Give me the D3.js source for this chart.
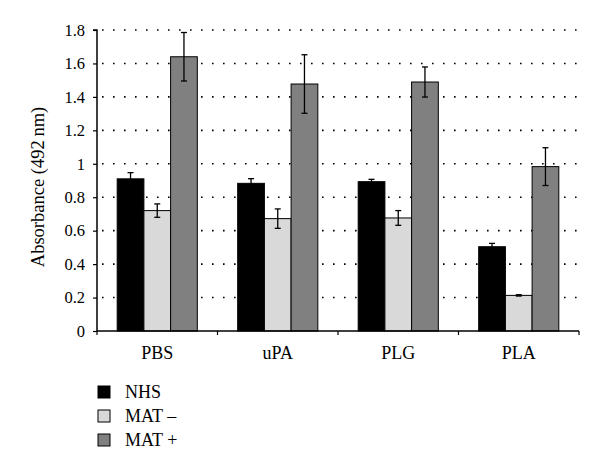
<!DOCTYPE html>
<html>
<head>
<meta charset="utf-8">
<script src="https://cdn.jsdelivr.net/npm/d3@7"></script>
<style>
  body { margin: 0; background: #fff; }
  svg { display: block; font-family: "Liberation Serif", "DejaVu Serif", serif; }
</style>
</head>
<body>
<svg></svg>
<script>
let categories = ['PBS', 'uPA', 'PLG', 'PLA']
let seriesNames = ['NHS', 'MAT \u2013', 'MAT +']
let seriesColors = ['#000000', '#d9d9d9', '#808080']

let nhs = [0.91, 0.883, 0.893, 0.504]
let matMinus = [0.72, 0.672, 0.676, 0.213]
let matPlus = [1.64, 1.477, 1.489, 0.983]

let nhsErr = [0.037, 0.028, 0.014, 0.02]
let matMinusErr = [0.04, 0.058, 0.044, 0.004]
let matPlusErr = [0.145, 0.175, 0.09, 0.113]

let yTicks = [0, 0.2, 0.4, 0.6, 0.8, 1, 1.2, 1.4, 1.6, 1.8]

let width = 600
let height = 471
let plotLeft = 97
let plotRight = 579
let plotTop = 30
let plotBottom = 331

let svg = d3.select('svg')
    .attr('width', width)
    .attr('height', height)

let values = [nhs, matMinus, matPlus]
let errors = [nhsErr, matMinusErr, matPlusErr]

let data = []
categories.forEach((c, i) => {
    seriesNames.forEach((s, j) => {
        data.push({cat: c, series: j, value: values[j][i], err: errors[j][i]})
    })
})

let xScale = d3.scaleBand()
    .domain(categories)
    .range([plotLeft, plotRight])
    .paddingInner(0.335)
    .paddingOuter(0.1675)

let xSub = d3.scaleBand()
    .domain(d3.range(seriesNames.length))
    .range([0, xScale.bandwidth()])

let yScale = d3.scaleLinear()
    .domain([0, 1.8])
    .range([plotBottom, plotTop])

// dotted grid
svg.append('g')
    .selectAll('line')
    .data(yTicks.filter(d => d > 0))
    .enter()
    .append('line')
    .attr('x1', plotLeft + 5)
    .attr('x2', plotRight)
    .attr('y1', d => yScale(d))
    .attr('y2', d => yScale(d))
    .attr('stroke', '#000')
    .attr('stroke-width', 1.6)
    .attr('stroke-dasharray', '1.6,9.4')

// bars
svg.append('g')
    .selectAll('rect')
    .data(data)
    .enter()
    .append('rect')
    .attr('x', d => xScale(d.cat) + xSub(d.series))
    .attr('y', d => yScale(d.value))
    .attr('width', xSub.bandwidth())
    .attr('height', d => yScale(0) - yScale(d.value))
    .attr('fill', d => seriesColors[d.series])
    .attr('stroke', '#000')
    .attr('stroke-width', 1)

// error bars
let errG = svg.append('g')
    .attr('stroke', '#000')
    .attr('stroke-width', 1.3)
data.forEach(d => {
    let cx = xScale(d.cat) + xSub(d.series) + xSub.bandwidth() / 2
    let y1 = yScale(d.value + d.err)
    let y2 = yScale(d.value - d.err)
    errG.append('line').attr('x1', cx).attr('x2', cx).attr('y1', y1).attr('y2', y2)
    errG.append('line').attr('x1', cx - 3).attr('x2', cx + 3).attr('y1', y1).attr('y2', y1)
    errG.append('line').attr('x1', cx - 3).attr('x2', cx + 3).attr('y1', y2).attr('y2', y2)
})

// y axis
let yAxis = d3.axisLeft(yScale)
    .tickValues(yTicks)
    .tickFormat(d => d3.format('')(d))
    .tickSize(4)
    .tickPadding(8)

let yG = svg.append('g')
    .attr('transform', 'translate(' + plotLeft + ',0)')
    .call(yAxis)
yG.select('.domain').attr('stroke-width', 1.5).attr('d', 'M-4,' + yScale(1.8) + 'H0V' + yScale(0))
yG.selectAll('text').attr('font-size', 16.5).attr('font-family', 'Liberation Serif').attr('fill', '#000')
yG.selectAll('.tick line').attr('stroke-width', 1.2)

// x axis
let xAxis = d3.axisBottom(xScale)
    .tickSize(0)
    .tickPadding(15)

let xG = svg.append('g')
    .attr('transform', 'translate(0,' + plotBottom + ')')
    .call(xAxis)
xG.select('.domain').attr('stroke-width', 1.5).attr('d', 'M' + plotLeft + ',0H' + plotRight)
xG.selectAll('text').attr('font-size', 18).attr('font-family', 'Liberation Serif').attr('fill', '#000')

// category separator ticks
let step = xScale.step()
xG.append('g')
    .selectAll('line')
    .data(d3.range(categories.length + 1))
    .enter()
    .append('line')
    .attr('x1', i => plotLeft + i * step)
    .attr('x2', i => plotLeft + i * step)
    .attr('y1', 0)
    .attr('y2', 4)
    .attr('stroke', '#000')
    .attr('stroke-width', 1.2)

// y title
svg.append('text')
    .attr('transform', 'translate(44,187) rotate(-90)')
    .attr('text-anchor', 'middle')
    .attr('font-size', 18.5)
    .text('Absorbance (492\u2009nm)')

// legend
let legend = svg.append('g')
    .selectAll('g')
    .data(seriesNames)
    .enter()
    .append('g')
    .attr('transform', (d, i) => 'translate(98,' + (386 + i * 24) + ')')

legend.append('rect')
    .attr('width', 12)
    .attr('height', 12)
    .attr('fill', (d, i) => seriesColors[i])
    .attr('stroke', '#000')
    .attr('stroke-width', 1)

legend.append('text')
    .attr('x', 27)
    .attr('y', 11.5)
    .attr('font-size', 18)
    .text(d => d)
</script>
</body>
</html>
